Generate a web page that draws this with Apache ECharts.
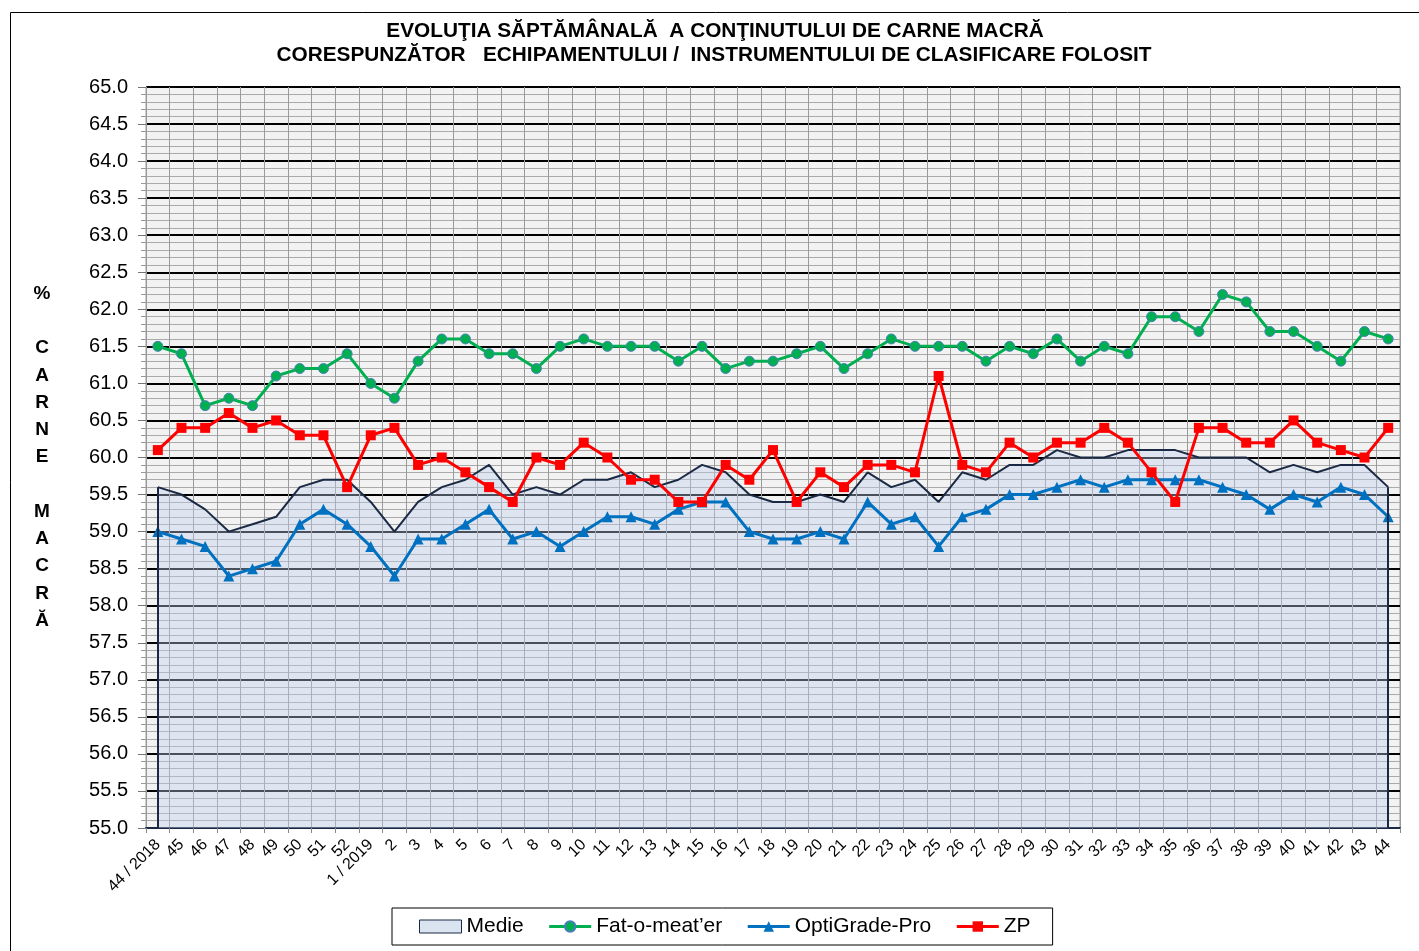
<!DOCTYPE html>
<html>
<head>
<meta charset="utf-8">
<script src="https://cdn.jsdelivr.net/npm/echarts@6/dist/echarts.min.js"></script>
<style>
html,body{margin:0;padding:0;background:#fff;}
#c{width:1419px;height:951px;}
</style>
</head>
<body>
<div id="c"></div>
<script>
const categories = ['44 / 2018','45','46','47','48','49','50','51','52','1 / 2019','2','3','4','5','6','7','8','9','10','11','12','13','14','15','16','17','18','19','20','21','22','23','24','25','26','27','28','29','30','31','32','33','34','35','36','37','38','39','40','41','42','43','44'];

const medie = [59.6,59.5,59.3,59.0,59.1,59.2,59.6,59.7,59.7,59.4,59.0,59.4,59.6,59.7,59.9,59.5,59.6,59.5,59.7,59.7,59.8,59.6,59.7,59.9,59.8,59.5,59.4,59.4,59.5,59.4,59.8,59.6,59.7,59.4,59.8,59.7,59.9,59.9,60.1,60.0,60.0,60.1,60.1,60.1,60.0,60.0,60.0,59.8,59.9,59.8,59.9,59.9,59.6];

const fatOMeater = [61.5,61.4,60.7,60.8,60.7,61.1,61.2,61.2,61.4,61.0,60.8,61.3,61.6,61.6,61.4,61.4,61.2,61.5,61.6,61.5,61.5,61.5,61.3,61.5,61.2,61.3,61.3,61.4,61.5,61.2,61.4,61.6,61.5,61.5,61.5,61.3,61.5,61.4,61.6,61.3,61.5,61.4,61.9,61.9,61.7,62.2,62.1,61.7,61.7,61.5,61.3,61.7,61.6];

const optiGradePro = [59.0,58.9,58.8,58.4,58.5,58.6,59.1,59.3,59.1,58.8,58.4,58.9,58.9,59.1,59.3,58.9,59.0,58.8,59.0,59.2,59.2,59.1,59.3,59.4,59.4,59.0,58.9,58.9,59.0,58.9,59.4,59.1,59.2,58.8,59.2,59.3,59.5,59.5,59.6,59.7,59.6,59.7,59.7,59.7,59.7,59.6,59.5,59.3,59.5,59.4,59.6,59.5,59.2];

const zp = [60.1,60.4,60.4,60.6,60.4,60.5,60.3,60.3,59.6,60.3,60.4,59.9,60.0,59.8,59.6,59.4,60.0,59.9,60.2,60.0,59.7,59.7,59.4,59.4,59.9,59.7,60.1,59.4,59.8,59.6,59.9,59.9,59.8,61.1,59.9,59.8,60.2,60.0,60.2,60.2,60.4,60.2,59.8,59.4,60.4,60.4,60.2,60.2,60.5,60.2,60.1,60.0,60.4];

const Y_MIN = 55, Y_MAX = 65, Y_STEP = 0.5;
const title1 = 'EVOLUŢIA SĂPTĂMÂNALĂ  A CONŢINUTULUI DE CARNE MACRĂ';
const title2 = 'CORESPUNZĂTOR   ECHIPAMENTULUI /  INSTRUMENTULUI DE CLASIFICARE FOLOSIT';
const yName = '%\n\nC\nA\nR\nN\nE\n\nM\nA\nC\nR\nĂ';

const FONT = '"Liberation Sans", Arial, sans-serif';
const NAVY = '#1b2a44';
const last = categories.length - 1;

const chart = echarts.init(document.getElementById('c'));
chart.setOption({
  animation: false,
  textStyle: {fontFamily: FONT},
  graphic: [
    {type:'rect', shape:{x:10.5,y:12.5,width:1430,height:960}, style:{fill:'none', stroke:'#000', lineWidth:1}, z:-10},
    {type:'text', x:715, y:21, style:{text:title1, font:'bold 20.8px '+FONT, textAlign:'center', textVerticalAlign:'top', fill:'#000'}},
    {type:'text', x:714, y:45, style:{text:title2, font:'bold 20.8px '+FONT, textAlign:'center', textVerticalAlign:'top', fill:'#000'}},
    {type:'text', x:42, y:280, style:{text:yName, font:'bold 19px '+FONT, textAlign:'center', textVerticalAlign:'top', lineHeight:27.25, fill:'#000'}}
  ],
  grid: {left:146, right:19, top:87, bottom:123, show:true, backgroundColor:'#f2f2f2', borderColor:'#999', borderWidth:1},
  legend: {
    left: 392, top: 908, width: 680,
    padding: [8, 22, 8, 27],
    borderColor: '#000', borderWidth: 1,
    itemWidth: 42, itemHeight: 13, itemGap: 24,
    textStyle: {fontSize: 21, color:'#000', fontFamily: FONT},
    data: [
      {name:'Medie', icon:'rect', itemStyle:{color:'#dae3f0', borderColor:NAVY, borderWidth:1}},
      {name:'Fat-o-meat’er', lineStyle:{width:3}},
      {name:'OptiGrade-Pro', lineStyle:{width:3}},
      {name:'ZP', lineStyle:{width:3}}
    ]
  },
  xAxis: {
    type: 'category', data: categories, boundaryGap: true,
    axisLine: {show:true, lineStyle:{color:NAVY, width:2}},
    axisTick: {show:true, length:5, lineStyle:{color:'#888'}},
    axisLabel: {interval:0, rotate:45, fontSize:16, color:'#000', margin:14, fontFamily: FONT},
    splitLine: {show:true, lineStyle:{color:'#9a9a9a', width:1}}
  },
  yAxis: {
    type: 'value', min: Y_MIN, max: Y_MAX, interval: Y_STEP,
    axisLine: {show:true, lineStyle:{color:'#999'}},
    axisTick: {show:true, length:8, lineStyle:{color:'#777'}},
    minorTick: {show:true, splitNumber:5, length:5, lineStyle:{color:'#999'}},
    axisLabel: {fontSize:20, color:'#000', margin:18, formatter: v => v.toFixed(1), fontFamily: FONT},
    splitLine: {show:true, lineStyle:{color:'#000', width:2}},
    minorSplitLine: {show:true, lineStyle:{color:'#aaaaaa', width:1}}
  },
  series: [
    {
      name:'Medie', type:'line', data: medie, symbol:'none', z:1,
      lineStyle:{color:NAVY, width:2},
      itemStyle:{color:'#dae3f0'},
      areaStyle:{color:'rgba(190,208,236,0.55)', origin:'start'},
      markLine:{
        silent:true, symbol:'none', label:{show:false},
        lineStyle:{color:NAVY, width:2, type:'solid'},
        data:[
          [{coord:[categories[0], Y_MIN]}, {coord:[categories[0], medie[0]]}],
          [{coord:[categories[last], Y_MIN]}, {coord:[categories[last], medie[last]]}]
        ]
      }
    },
    {
      name:'Fat-o-meat’er', type:'line', data: fatOMeater, z:3,
      symbol:'circle', symbolSize:10,
      lineStyle:{color:'#00b050', width:3},
      itemStyle:{color:'#00b050', borderColor:'#4a7ebb', borderWidth:1}
    },
    {
      name:'OptiGrade-Pro', type:'line', data: optiGradePro, z:3,
      symbol:'triangle', symbolSize:11,
      lineStyle:{color:'#0070c0', width:3},
      itemStyle:{color:'#0070c0'}
    },
    {
      name:'ZP', type:'line', data: zp, z:4,
      symbol:'rect', symbolSize:10,
      lineStyle:{color:'#ff0000', width:3},
      itemStyle:{color:'#ff0000'}
    }
  ]
});
</script>
</body>
</html>
